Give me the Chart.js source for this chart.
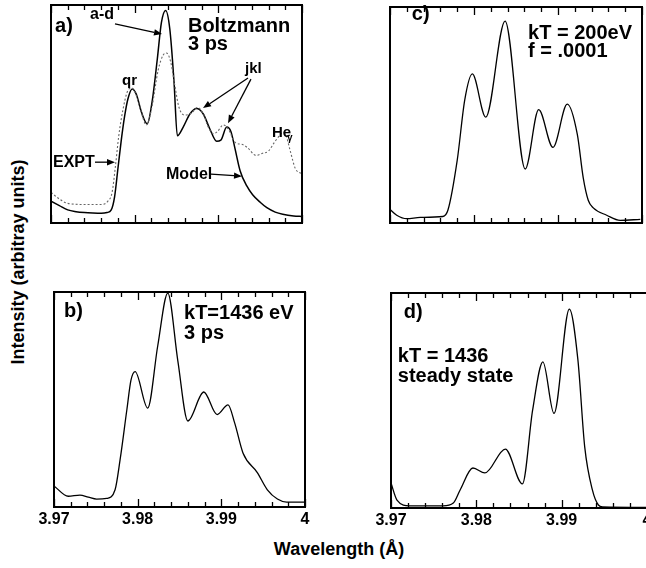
<!DOCTYPE html>
<html><head><meta charset="utf-8">
<script src="https://cdn.jsdelivr.net/npm/chart.js@4.4.1/dist/chart.umd.min.js"></script>
<style>
html,body{margin:0;padding:0;width:646px;height:568px;overflow:hidden;background:#fff;}
canvas{position:absolute;}
.lbl{position:absolute;font-family:"Liberation Sans",Arial,sans-serif;font-weight:bold;color:#000;white-space:nowrap;line-height:1;}
#ylab{font-size:18px;left:18px;top:262px;transform:translate(-50%,-50%) rotate(-90deg);}
#xlab{font-size:18px;left:339px;top:549px;transform:translate(-50%,-50%);}
</style></head><body>
<canvas id="pa"></canvas>
<canvas id="pb"></canvas>
<canvas id="pc"></canvas>
<canvas id="pd"></canvas>
<div class="lbl" id="ylab">Intensity (arbitray units)</div>
<div class="lbl" id="xlab">Wavelength (Å)</div>
<script>
// ---------- data ----------
const xMin = 3.97, xMax = 4.0;
const xMinorTicks = [3.970,3.972,3.974,3.976,3.978,3.980,3.982,3.984,3.986,3.988,3.990,3.992,3.994,3.996,3.998,4.000];
const xMajorTicks = [3.97,3.98,3.99,4.00];
const xTickLabels = ['3.97','3.98','3.99','4'];

// panel a) Model (solid)
const aModelWave = [3.970,3.971,3.972,3.973,3.974,3.975,3.976,3.9767,3.9772,3.9776,3.9780,3.9784,3.9788,3.9792,3.9797,3.9802,3.9808,3.9815,3.9821,3.9827,3.9832,3.9837,3.9842,3.9847,3.9851,3.9858,3.9866,3.9874,3.9882,3.9890,3.9898,3.9903,3.9910,3.9915,3.9920,3.9926,3.9934,3.9941,3.9950,3.9958,3.9968,3.9977,3.9990,4.000];
const aModel     = [0.10,0.08,0.06,0.052,0.048,0.046,0.045,0.048,0.06,0.12,0.25,0.38,0.49,0.57,0.615,0.59,0.51,0.455,0.56,0.75,0.92,0.975,0.89,0.65,0.40,0.44,0.50,0.525,0.50,0.43,0.375,0.38,0.44,0.42,0.34,0.24,0.17,0.13,0.095,0.07,0.05,0.04,0.032,0.03];
// panel a) EXPT (dotted)
const aExptWave = [3.970,3.971,3.972,3.974,3.976,3.9768,3.9773,3.9777,3.9781,3.9786,3.9791,3.9796,3.9801,3.9807,3.9814,3.9821,3.9828,3.9834,3.9838,3.9843,3.9848,3.9853,3.9860,3.9868,3.9875,3.9882,3.9888,3.9894,3.9899,3.9906,3.9912,3.9920,3.9929,3.9935,3.9945,3.9953,3.9960,3.9967,3.9973,3.9977,3.9981,3.9986,3.9992,4.000];
const aExpt     = [0.14,0.11,0.09,0.085,0.085,0.10,0.14,0.26,0.40,0.52,0.60,0.62,0.595,0.52,0.45,0.54,0.70,0.77,0.78,0.74,0.63,0.53,0.495,0.505,0.53,0.50,0.44,0.41,0.42,0.45,0.43,0.37,0.36,0.345,0.31,0.32,0.33,0.37,0.40,0.415,0.40,0.33,0.25,0.225];
// panel b) kT=1436 eV, 3 ps
const bWave  = [3.970,3.9717,3.9731,3.9741,3.9751,3.9763,3.9773,3.9779,3.9787,3.9792,3.9797,3.9812,3.9824,3.9836,3.9848,3.9860,3.9879,3.9895,3.9908,3.9916,3.9926,3.9943,3.9955,3.9967,3.9978,4.000];
const bModel = [0.098,0.05,0.055,0.046,0.037,0.04,0.08,0.22,0.45,0.59,0.63,0.46,0.75,0.995,0.68,0.40,0.535,0.43,0.475,0.39,0.25,0.16,0.08,0.037,0.023,0.023];
// panel c) kT = 200eV, f = .0001
const cWave  = [3.970,3.9708,3.9720,3.9736,3.9763,3.9769,3.9780,3.9789,3.9798,3.9814,3.9837,3.9861,3.9877,3.9894,3.9911,3.9923,3.9930,3.9936,3.9942,3.9958,3.9974,3.9998];
const cModel = [0.063,0.036,0.02,0.026,0.03,0.06,0.29,0.57,0.69,0.49,0.935,0.25,0.525,0.35,0.55,0.41,0.21,0.105,0.07,0.036,0.012,0.017];
// panel d) kT = 1436 steady state
const dWave  = [3.970,3.9707,3.9722,3.9761,3.9773,3.9781,3.9796,3.9810,3.9834,3.9854,3.9866,3.9878,3.9891,3.9909,3.9919,3.9927,3.9936,3.9943,3.9948,4.000];
const dModel = [0.116,0.037,0.01,0.01,0.023,0.084,0.186,0.163,0.274,0.112,0.456,0.68,0.44,0.925,0.69,0.284,0.084,0.014,0.005,0.003];

// ---------- helpers ----------
const FONT = '"Liberation Sans", Arial, sans-serif';
Chart.defaults.font.family = FONT;
Chart.defaults.font.size = 16;
Chart.defaults.font.weight = 'bold';
Chart.defaults.color = '#000';
const PADL = 22, PADR = 22, PADT = 4, PADB = 2;
const pts = (xs, ys) => xs.map((x, i) => ({x, y: ys[i]}));
const isMajor = v => xMajorTicks.some(m => Math.abs(m - v) < 1e-9);

const framePlugin = {
  id: 'frame',
  afterDatasetsDraw(chart, args, opts) {
    const {ctx, chartArea: a, scales: {x, y}} = chart;
    ctx.save();
    ctx.strokeStyle = '#000';
    ctx.lineWidth = 1.3;
    ctx.beginPath();
    xMinorTicks.forEach(v => {
      const px = Math.round(x.getPixelForValue(v)) + 0.5;
      const L = isMajor(v) ? 8 : 5;
      ctx.moveTo(px, a.top); ctx.lineTo(px, a.top + L);
      ctx.moveTo(px, a.bottom); ctx.lineTo(px, a.bottom - L);
    });
    ctx.stroke();
    ctx.lineWidth = 2;
    ctx.strokeRect(a.left, a.top, a.right - a.left, a.bottom - a.top);
    ctx.fillStyle = '#000';
    ctx.textBaseline = 'alphabetic';
    (opts.texts || []).forEach(t => {
      ctx.font = `bold ${t.size}px ${FONT}`;
      ctx.fillText(t.text, x.getPixelForValue(t.x), y.getPixelForValue(t.y));
    });
    ctx.lineWidth = 1.3;
    (opts.arrows || []).forEach(ar => {
      const x1 = x.getPixelForValue(ar[0]), y1 = y.getPixelForValue(ar[1]);
      const x2 = x.getPixelForValue(ar[2]), y2 = y.getPixelForValue(ar[3]);
      const ang = Math.atan2(y2 - y1, x2 - x1);
      const hl = 8, hw = 3.2;
      ctx.beginPath(); ctx.moveTo(x1, y1);
      ctx.lineTo(x2 - hl * Math.cos(ang), y2 - hl * Math.sin(ang)); ctx.stroke();
      ctx.beginPath();
      ctx.moveTo(x2, y2);
      ctx.lineTo(x2 - hl * Math.cos(ang) + hw * Math.sin(ang), y2 - hl * Math.sin(ang) - hw * Math.cos(ang));
      ctx.lineTo(x2 - hl * Math.cos(ang) - hw * Math.sin(ang), y2 - hl * Math.sin(ang) + hw * Math.cos(ang));
      ctx.closePath(); ctx.fill();
    });
    ctx.restore();
  }
};

function makePanel(id, area, showLabels, datasets, texts, arrows) {
  const axisH = showLabels ? 26 : 0;
  const [l, t, r, b] = area;
  const cv = document.getElementById(id);
  cv.width = Math.round(r - l + PADL + PADR);
  cv.height = Math.round(b - t + PADT + PADB + axisH);
  cv.style.left = (l - PADL) + 'px';
  cv.style.top = (t - PADT) + 'px';
  return new Chart(cv, {
    type: 'line',
    data: {datasets},
    options: {
      responsive: false, animation: false, devicePixelRatio: 1,
      layout: {padding: {left: PADL, right: PADR, top: PADT, bottom: PADB}},
      elements: {point: {radius: 0}, line: {cubicInterpolationMode: 'monotone'}},
      plugins: {legend: {display: false}, tooltip: {enabled: false}, frame: {texts, arrows}},
      scales: {
        x: {
          type: 'linear', min: xMin, max: xMax,
          grid: {display: false, drawTicks: false}, border: {display: false},
          afterBuildTicks: s => { s.ticks = xMinorTicks.map(v => ({value: v})); },
          afterFit: s => { s.height = axisH; },
          ticks: {
            display: showLabels, padding: 3, autoSkip: false, maxRotation: 0, minRotation: 0,
            color: '#000', font: {family: FONT, size: 16, weight: 'bold'},
            callback: v => { const i = xMajorTicks.findIndex(m => Math.abs(m - v) < 1e-9); return i >= 0 ? xTickLabels[i] : ''; }
          }
        },
        y: {display: false, min: 0, max: 1}
      }
    },
    plugins: [framePlugin]
  });
}

const solid = (data) => ({data, borderColor: '#000', borderWidth: 1.3, fill: false});

makePanel('pa', [51, 5, 302, 222.7], false, [
  {data: pts(aExptWave, aExpt), borderColor: '#666', borderWidth: 1.1, borderDash: [2, 2], fill: false},
  {data: pts(aModelWave, aModel), borderColor: '#000', borderWidth: 1.5, fill: false}
], [
  {text: 'a)', x: 3.97048, y: 0.877, size: 20},
  {text: 'a-d', x: 3.97466, y: 0.936, size: 16},
  {text: 'Boltzmann', x: 3.98637, y: 0.876, size: 20},
  {text: '3 ps', x: 3.98637, y: 0.793, size: 20},
  {text: 'qr', x: 3.97849, y: 0.633, size: 15},
  {text: 'jkl', x: 3.99319, y: 0.688, size: 15},
  {text: 'He', x: 3.99641, y: 0.394, size: 15},
  {text: 'γ', x: 3.99821, y: 0.375, size: 10},
  {text: 'EXPT', x: 3.97024, y: 0.256, size: 16},
  {text: 'Model', x: 3.98375, y: 0.200, size: 16}
], [
  [3.97765, 0.913, 3.98327, 0.867],
  [3.99355, 0.665, 3.98817, 0.527],
  [3.99390, 0.660, 3.99116, 0.458],
  [3.97526, 0.279, 3.97765, 0.279],
  [3.98912, 0.224, 3.99283, 0.215]
]);

makePanel('pc', [390, 7, 642, 222.7], false, [solid(pts(cWave, cModel))], [
  {text: 'c)', x: 3.9726, y: 0.94, size: 20},
  {text: 'kT = 200eV', x: 3.98643, y: 0.852, size: 20},
  {text: 'f = .0001', x: 3.98643, y: 0.768, size: 20}
], []);

makePanel('pb', [54, 292, 305, 507], true, [solid(pts(bWave, bModel))], [
  {text: 'b)', x: 3.9712, y: 0.884, size: 20},
  {text: 'kT=1436 eV', x: 3.98554, y: 0.874, size: 20},
  {text: '3 ps', x: 3.98554, y: 0.78, size: 20}
], []);

makePanel('pd', [391, 293, 647, 508], true, [solid(pts(dWave, dModel))], [
  {text: 'd)', x: 3.9715, y: 0.884, size: 20},
  {text: 'kT = 1436', x: 3.9708, y: 0.68, size: 20},
  {text: 'steady state', x: 3.9708, y: 0.586, size: 20}
], []);
</script>
</body></html>
